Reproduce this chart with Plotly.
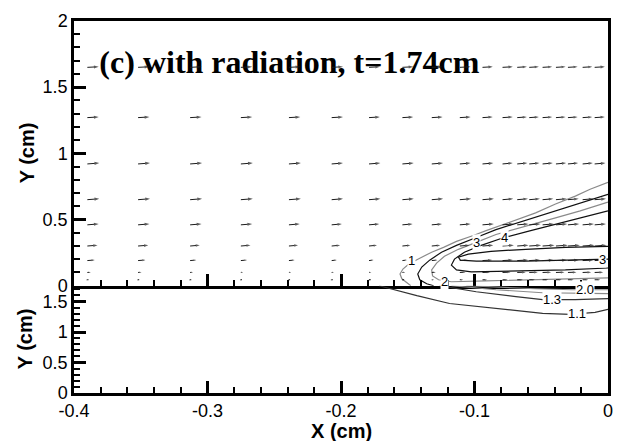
import plotly.graph_objects as go

# ---------------- data ----------------
x_tickvals = [-0.4, -0.3, -0.2, -0.1, 0.0]
x_ticktext = ["-0.4", "-0.3", "-0.2", "-0.1", "0"]
x_minor_vals = [-0.38, -0.36, -0.34, -0.32, -0.28, -0.26, -0.24, -0.22,
                -0.18, -0.16, -0.14, -0.12, -0.08, -0.06, -0.04, -0.02]
y_top_tickvals = [0, 0.5, 1, 1.5, 2]
y_top_ticktext = ["0", "0.5", "1", "1.5", "2"]
y_top_minor_vals = [0.1, 0.2, 0.3, 0.4, 0.6, 0.7, 0.8, 0.9, 1.1, 1.2, 1.3, 1.4,
                    1.6, 1.7, 1.8, 1.9]
y_bot_tickvals = [0, 0.5, 1, 1.5]
y_bot_ticktext = ["0", "0.5", "1", "1.5"]
y_bot_minor_vals = [0.1, 0.2, 0.3, 0.4, 0.6, 0.7, 0.8, 0.9, 1.1, 1.2, 1.3, 1.4, 1.6, 1.7]

title_text = "(c) with radiation, t=1.74cm"

# velocity vector grid (top panel)
arrow_rows_y = [1.65, 1.27, 0.92, 0.65, 0.46, 0.30, 0.19, 0.10, 0.045]
arrow_cols_x = [-0.390, -0.352, -0.313, -0.275, -0.239, -0.207, -0.179, -0.154, -0.132,
                -0.111, -0.094, -0.079, -0.068, -0.059, -0.049, -0.039, -0.030, -0.019, -0.010]
u_row_0 = [1.0, 1.0, 1.0, 1.0, 1.0, 1.0, 0.95, 0.95, 0.95, 0.95, 0.9, 0.9, 0.85, 0.85, 0.85, 0.85, 0.85, 0.85, 0.9]
u_row_1 = [1.0, 1.0, 1.0, 1.0, 1.0, 1.0, 0.95, 0.95, 0.95, 0.95, 0.9, 0.9, 0.85, 0.85, 0.85, 0.85, 0.85, 0.85, 0.9]
u_row_2 = [1.05, 1.05, 1.05, 1.05, 1.05, 1.0, 1.0, 1.0, 1.0, 0.95, 0.95, 0.9, 0.9, 0.9, 0.9, 0.9, 0.9, 0.9, 0.95]
u_row_3 = [1.05, 1.05, 1.05, 1.05, 1.05, 1.0, 1.0, 1.0, 1.0, 1.0, 1.0, 0.95, 0.95, 0.95, 0.95, 0.95, 0.95, 0.95, 1.0]
u_row_4 = [1.0, 1.0, 1.0, 1.0, 0.95, 0.9, 0.9, 0.9, 0.9, 0.95, 1.0, 1.0, 1.0, 1.0, 1.0, 1.0, 1.0, 1.0, 1.0]
u_row_5 = [0.9, 0.9, 0.85, 0.85, 0.8, 0.75, 0.7, 0.7, 0.75, 0.85, 0.95, 1.0, 1.0, 1.05, 1.05, 1.05, 1.05, 1.05, 1.05]
u_row_6 = [0.65, 0.65, 0.55, 0.55, 0.5, 0.45, 0.4, 0.4, 0.5, 0.7, 0.85, 0.9, 0.95, 0.95, 0.95, 0.95, 0.95, 0.95, 0.95]
u_row_7 = [0.3, 0.3, 0.25, 0.2, 0.2, 0.2, 0.2, 0.25, 0.35, 0.5, 0.65, 0.7, 0.75, 0.75, 0.75, 0.75, 0.75, 0.75, 0.75]
u_row_8 = [0.1, 0.1, 0.1, 0.1, 0.1, 0.1, 0.15, 0.15, 0.2, 0.3, 0.4, 0.45, 0.5, 0.5, 0.5, 0.5, 0.5, 0.5, 0.5]
u_rows = [u_row_0, u_row_1, u_row_2, u_row_3, u_row_4, u_row_5, u_row_6, u_row_7, u_row_8]
v_rows = [0.05, 0.06, 0.08, 0.08, 0.08, 0.07, 0.05, 0.03, 0.0]

# contour lines, top panel (gas)
c1_x = [0.0, -0.0134, -0.0245, -0.0393, -0.0542, -0.0690, -0.0787, -0.0913, -0.1009, -0.1135,
        -0.1232, -0.1321, -0.1410, -0.1492, -0.1536, -0.1558, -0.1544, -0.1507, -0.1477]
c1_y = [0.781, 0.729, 0.677, 0.617, 0.550, 0.498, 0.461, 0.416, 0.379, 0.335,
        0.290, 0.253, 0.208, 0.164, 0.126, 0.089, 0.052, 0.022, 0.0]
c2_x = [0.0, -0.0208, -0.0393, -0.0579, -0.0839, -0.0987, -0.1135, -0.1247, -0.1336, -0.1395,
        -0.1425, -0.1410, -0.1358, -0.1306]
c2_y = [0.691, 0.625, 0.565, 0.506, 0.424, 0.364, 0.305, 0.253, 0.193, 0.141,
        0.089, 0.045, 0.015, 0.0]
c3_x = [0.0, -0.0208, -0.0393, -0.0579, -0.0839, -0.0987, -0.1121, -0.1225, -0.1284, -0.1321,
        -0.1314, -0.1269, -0.1173, -0.0913, -0.0542, 0.0]
c3_y = [0.632, 0.565, 0.513, 0.461, 0.387, 0.327, 0.275, 0.223, 0.171, 0.119,
        0.074, 0.045, 0.030, 0.037, 0.045, 0.059]
c4_x = [0.0, -0.0208, -0.0393, -0.0579, -0.0779, -0.0950, -0.1076, -0.1150, -0.1173, -0.1135,
        -0.1024, -0.0690, -0.0319, 0.0]
c4_y = [0.565, 0.513, 0.468, 0.416, 0.364, 0.305, 0.253, 0.201, 0.156, 0.119,
        0.104, 0.112, 0.119, 0.134]
c5_x = [0.0, -0.0319, -0.0616, -0.0876, -0.1046, -0.1121, -0.1106, -0.0987, -0.0616, -0.0245, 0.0]
c5_y = [0.297, 0.290, 0.275, 0.260, 0.238, 0.216, 0.193, 0.186, 0.186, 0.193, 0.201]

# contour lines, bottom panel (solid)
b11_x = [-0.1714, -0.1432, -0.1187, -0.0839, -0.0490, -0.0282, -0.0097, 0.0]
b11_y = [1.76, 1.597, 1.468, 1.387, 1.306, 1.290, 1.323, 1.371]
b13_x = [-0.1262, -0.0987, -0.0690, -0.0490, -0.0245, 0.0]
b13_y = [1.76, 1.661, 1.581, 1.532, 1.532, 1.548]
b15_x = [-0.1173, -0.0839, -0.0490, 0.0]
b15_y = [1.76, 1.694, 1.645, 1.629]
b20_x = [-0.1061, -0.0839, -0.0542, -0.0267, 0.0]
b20_y = [1.76, 1.734, 1.710, 1.694, 1.694]

# contour labels
top_labels = [("1", -0.1469, 0.193), ("3", -0.0987, 0.327), ("4", -0.0779, 0.364),
              ("3", -0.0040, 0.200), ("2", -0.1225, 0.030)]
bot_labels = [("2.0", -0.0171, 1.690), ("1.3", -0.0416, 1.532), ("1.1", -0.0230, 1.300)]

# ---------------- figure ----------------
U_SCALE = 0.0085
V_SCALE = 0.0855

fig = go.Figure()

# title (drawn under the arrows)
fig.add_trace(go.Scatter(
    x=[-0.381], y=[1.665], mode="text", text=["<b>" + title_text + "</b>"],
    textposition="middle right",
    textfont=dict(family="Liberation Serif", size=32, color="black"),
    xaxis="x", yaxis="y", showlegend=False, hoverinfo="skip", cliponaxis=False))

top_contours = [(c1_x, c1_y, "#8a8a8a"), (c2_x, c2_y, "#111111"), (c3_x, c3_y, "#8a8a8a"),
                (c4_x, c4_y, "#111111"), (c5_x, c5_y, "#111111")]
for cx, cy, col in top_contours:
    fig.add_trace(go.Scatter(x=cx, y=cy, mode="lines", line=dict(color=col, width=1.2),
                             xaxis="x", yaxis="y", showlegend=False, hoverinfo="skip"))
bot_contours = [(b11_x, b11_y, "#333333"), (b13_x, b13_y, "#333333"),
                (b15_x, b15_y, "#8a8a8a"), (b20_x, b20_y, "#8a8a8a")]
for cx, cy, col in bot_contours:
    fig.add_trace(go.Scatter(x=cx, y=cy, mode="lines", line=dict(color=col, width=1.2),
                             xaxis="x2", yaxis="y2", showlegend=False, hoverinfo="skip"))

# vectors
ax_, ay_, sz_ = [], [], []
for i, yr in enumerate(arrow_rows_y):
    for j, xc in enumerate(arrow_cols_x):
        u = u_rows[i][j]
        v = v_rows[i]
        ax_ += [xc, xc + u * U_SCALE, None]
        ay_ += [yr, yr + v * V_SCALE, None]
        sz_ += [0, max(2.0, 5.0 * min(u, 1.0)), 0]
fig.add_trace(go.Scatter(
    x=ax_, y=ay_, mode="lines+markers",
    line=dict(color="#1a1a1a", width=1),
    marker=dict(symbol="arrow", size=sz_, angleref="previous", color="#1a1a1a",
                line=dict(width=0)),
    xaxis="x", yaxis="y", showlegend=False, hoverinfo="skip", connectgaps=False))

tickfont = dict(family="Liberation Sans", size=18, color="black")


def xaxis_style(minor_vals):
    return dict(range=[-0.4, 0.0], showgrid=False, zeroline=False, showline=True,
                linecolor="black", linewidth=2.5,
                ticks="inside", ticklen=12, tickwidth=2.5, tickcolor="black",
                tickmode="array", tickvals=x_tickvals, ticktext=x_ticktext,
                minor=dict(ticks="inside", ticklen=6, tickwidth=1.5, tickcolor="black",
                           tickmode="array", tickvals=minor_vals, showgrid=False),
                tickfont=tickfont)


def yaxis_style(vals, text, minor_vals, rng):
    return dict(range=rng, showgrid=False, zeroline=False, showline=True,
                linecolor="black", linewidth=2.5, mirror=True,
                ticks="inside", ticklen=12, tickwidth=2.5, tickcolor="black",
                tickmode="array", tickvals=vals, ticktext=text,
                minor=dict(ticks="inside", ticklen=6, tickwidth=1.5, tickcolor="black",
                           tickmode="array", tickvals=minor_vals, showgrid=False),
                tickfont=tickfont)


split = 0.2884
fig.update_layout(
    width=624, height=441,
    margin=dict(l=74, r=11, t=15, b=48),
    paper_bgcolor="white", plot_bgcolor="white",
    showlegend=False,
    xaxis=dict(xaxis_style(x_minor_vals), anchor="y", domain=[0, 1],
               showticklabels=False, mirror=True),
    yaxis=dict(yaxis_style(y_top_tickvals, y_top_ticktext, y_top_minor_vals, [0, 2]),
               anchor="x", domain=[split, 1]),
    xaxis2=dict(xaxis_style(x_minor_vals), anchor="y2", domain=[0, 1], mirror=False),
    yaxis2=dict(yaxis_style(y_bot_tickvals, y_bot_ticktext, y_bot_minor_vals, [0, 1.76]),
                anchor="x2", domain=[0, split]),
)

annots = []
lab_font = dict(family="Liberation Sans", size=13, color="black")
for t, x, y in top_labels:
    annots.append(dict(text=t, x=x, y=y, xref="x", yref="y", showarrow=False,
                       font=lab_font, bgcolor="white", borderpad=0))
for t, x, y in bot_labels:
    annots.append(dict(text=t, x=x, y=y, xref="x2", yref="y2", showarrow=False,
                       font=lab_font, bgcolor="white", borderpad=0))
title_font = dict(family="Liberation Sans", size=20, color="black")
annots.append(dict(text="<b>Y (cm)</b>", x=0, y=(split + 1) / 2, xref="paper", yref="paper",
                   xshift=-47, textangle=-90, showarrow=False, font=title_font,
                   xanchor="center", yanchor="middle"))
annots.append(dict(text="<b>Y (cm)</b>", x=0, y=split / 2, xref="paper", yref="paper",
                   xshift=-49, textangle=-90, showarrow=False, font=title_font,
                   xanchor="center", yanchor="middle"))
annots.append(dict(text="<b>X (cm)</b>", x=0.5, y=0, xref="paper", yref="paper",
                   yshift=-38, showarrow=False, font=title_font,
                   xanchor="center", yanchor="middle"))
fig.update_layout(annotations=annots)

fig.write_html("out.html")
